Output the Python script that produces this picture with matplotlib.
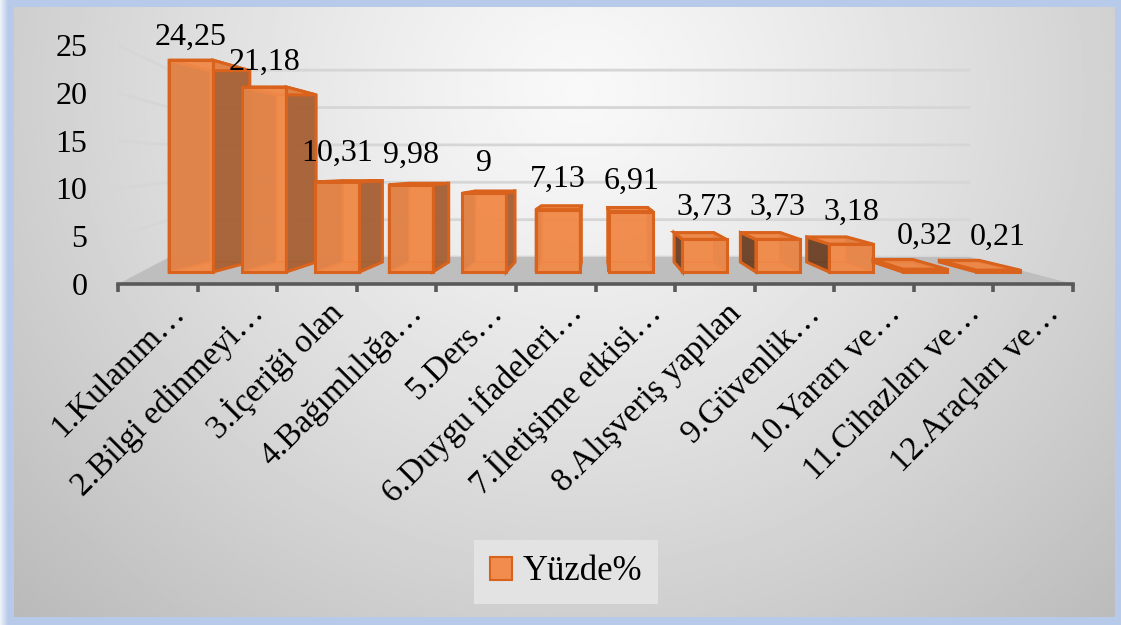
import numpy as np
import matplotlib.pyplot as plt
from matplotlib.patches import Polygon, Patch

categories = ["1.Kulanım…", "2.Bilgi edinmeyi…", "3.İçeriği olan", "4.Bağımlılığa…",
              "5.Ders…", "6.Duygu ifadeleri…", "7.İletişime etkisi…", "8.Alışveriş yapılan",
              "9.Güvenlik…", "10.Yararı ve…", "11.Cihazları ve…", "12.Araçları ve…"]
values = [24.25, 21.18, 10.31, 9.98, 9, 7.13, 6.91, 3.73, 3.73, 3.18, 0.32, 0.21]
value_labels = ["24,25", "21,18", "10,31", "9,98", "9", "7,13", "6,91",
                "3,73", "3,73", "3,18", "0,32", "0,21"]
y_ticks = [0, 5, 10, 15, 20, 25]
series_name = "Yüzde%"

W, H = 1121, 625
FONT = "Liberation Serif"

# fake 3d geometry (axes data units: x = category, y = value on front-left edge)
FLOOR_BACK_Y = 2.82
WALL_LEFT, WALL_RIGHT = 0.653, 10.71
BACK_PER_UNIT = 0.782
FRONT_VX, FRONT_S = 5.82, 0.9225
BAR_W = 0.6
BASE_Y, PER_UNIT = 1.255, 0.914
BACK_VX, BACK_VY, BACK_S = 6.006, 12.03, 0.903

C_FRONT = (0.94, 0.55, 0.30, 0.88)
C_RIGHT = (0.64, 0.38, 0.22, 0.92)
C_LEFT = (0.40, 0.25, 0.16, 0.92)
C_TOP = (0.93, 0.53, 0.28, 0.85)
C_EDGE = "#d9621c"

fig = plt.figure(figsize=(W / 100, H / 100), dpi=100)
fig.patch.set_facecolor("#b8caea")

# background gradient
bg = fig.add_axes([0, 0, 1, 1])
bg.set_xlim(0, W)
bg.set_ylim(H, 0)
bg.axis("off")
gx, gy = np.meshgrid(np.linspace(14, 1115, 400), np.linspace(7, 617, 250))
d = np.sqrt(((gx - 580) / 640) ** 2 + ((gy - 90) / 600) ** 2)
shade = np.clip(0.975 - 0.19 * np.clip(d, 0, 1.4) ** 1.2, 0, 1)
bg.imshow(shade, cmap="gray", vmin=0, vmax=1, extent=(14, 1115, 617, 7),
          interpolation="bilinear", aspect="auto")
# soft white glow on the outer left side
glow = np.linspace(1, 0, 40).reshape(1, -1)
bg.imshow(np.ones((1, 40, 4)) * [1, 1, 1, 0] + np.dstack([np.zeros((1, 40, 3)), glow * 0.8]),
          extent=(0, 8, H, 0), aspect="auto", interpolation="bilinear")

ax = fig.add_axes([118 / W, (H - 284) / H, 955 / W, (284 - 45) / H])
ax.patch.set_alpha(0)
ax.set_xlim(0, len(categories))
ax.set_ylim(0, 25)
for s in ["top", "right", "left"]:
    ax.spines[s].set_visible(False)
ax.spines["bottom"].set_color("#595959")
ax.spines["bottom"].set_linewidth(2.6)
ax.spines["bottom"].set_zorder(5)

ax.set_xticks(range(len(categories) + 1))
ax.set_xticklabels([])
ax.tick_params(axis="x", length=6, width=2.6, color="#595959", direction="out")
ax.set_yticks(y_ticks)
ax.set_yticklabels([str(t) for t in y_ticks], fontfamily=FONT, fontsize=23)
ax.tick_params(axis="y", length=0, pad=22)

# walls gridlines + floor
for t in y_ticks:
    yb = FLOOR_BACK_Y + BACK_PER_UNIT * t
    ax.plot([0, WALL_LEFT, WALL_RIGHT], [t, yb, yb], color="#d6d6d6", lw=2,
            zorder=0.5, clip_on=False, solid_capstyle="butt")
ax.add_patch(Polygon([(0, 0), (len(categories), 0), (WALL_RIGHT, FLOOR_BACK_Y),
                      (WALL_LEFT, FLOOR_BACK_Y)], closed=True, fc="#bebebe", ec="none",
                     zorder=1, clip_on=False))


def to_back(p):
    return (BACK_VX + (p[0] - BACK_VX) * BACK_S, BACK_VY + (p[1] - BACK_VY) * BACK_S)


def face(pts, color, z, lw=2.2):
    ax.add_patch(Polygon(pts, closed=True, fc=color, ec=C_EDGE, lw=lw,
                         joinstyle="miter", zorder=z, clip_on=False))


for i, v in enumerate(values):
    xc = FRONT_VX + (i + 0.5 - FRONT_VX) * FRONT_S
    half = BAR_W * FRONT_S / 2
    x0, x1 = xc - half, xc + half
    y0, y1 = BASE_Y, BASE_Y + PER_UNIT * v
    f = [(x0, y0), (x1, y0), (x1, y1), (x0, y1)]
    b = [to_back(p) for p in f]
    left = [f[0], f[3], b[3], b[0]]
    right = [f[1], f[2], b[2], b[1]]
    top = [f[3], f[2], b[2], b[3]]
    bottom = [f[0], f[1], b[1], b[0]]
    z = 2 + 0.01 * i
    face(b, C_FRONT, z, lw=1.4)
    face(bottom, C_TOP, z + 0.001, lw=1.4)
    if x1 < BACK_VX:
        face(left, C_LEFT, z + 0.002, lw=1.4)
        face(right, C_RIGHT, z + 0.004)
    else:
        face(right, C_RIGHT, z + 0.002, lw=1.4)
        face(left, C_LEFT, z + 0.004)
    face(top, C_TOP, z + 0.005)
    face(f, C_FRONT, z + 0.006)
    top_mid = (y1 + b[3][1]) / 2
    ax.annotate(value_labels[i], (xc, top_mid), xytext=(0, 15), textcoords="offset points",
                ha="center", va="baseline", fontfamily=FONT, fontsize=23,
                annotation_clip=False, zorder=10)

for i, lab in enumerate(categories):
    ax.annotate(lab, (i + 0.5, 0), xytext=(20, -22), textcoords="offset points",
                rotation=45, rotation_mode="anchor", ha="right", va="baseline",
                fontfamily=FONT, fontsize=24, annotation_clip=False)

handle = Patch(fc=C_FRONT[:3], ec=C_EDGE, lw=1.5, label=series_name)
fig.legend(handles=[handle], loc="center", bbox_to_anchor=(566 / W, 1 - 572 / H),
           frameon=True, facecolor="#e3e3e3", edgecolor="none", fancybox=False,
           framealpha=1, prop={"family": FONT, "size": 25}, handlelength=0.65,
           handleheight=0.65, borderpad=0.45, handletextpad=0.3, borderaxespad=0)

fig.savefig("out.png", dpi=100, facecolor=fig.get_facecolor())
